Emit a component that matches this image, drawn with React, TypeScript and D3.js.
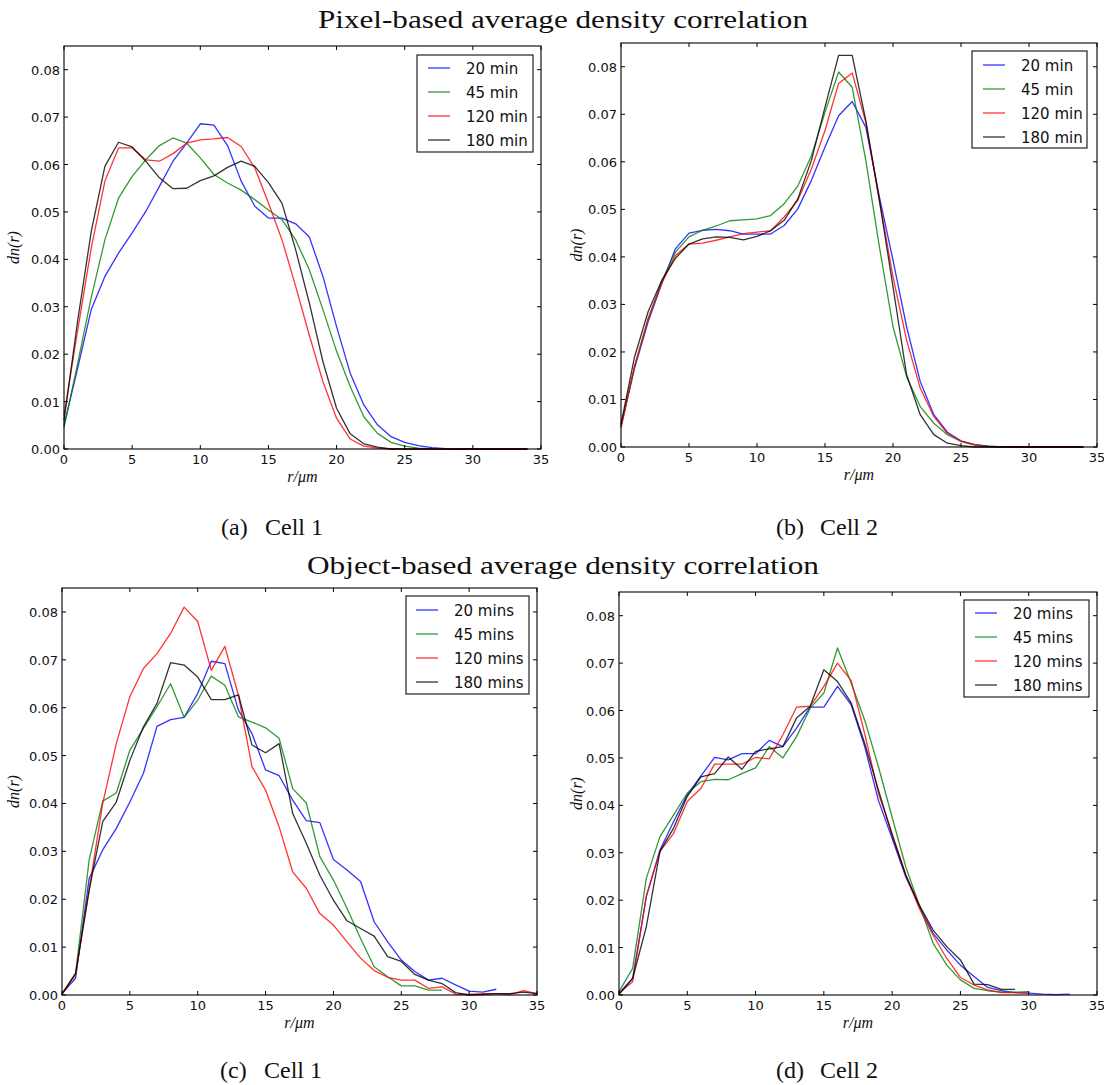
import React from 'react'
import * as d3 from 'd3'

// legend labels / colours
const pixelNames = ['20 min', '45 min', '120 min', '180 min']
const objectNames = ['20 mins', '45 mins', '120 mins', '180 mins']
const lineColors = ['#0000ff', '#008000', '#ff0000', '#000000']

const xTicks = [0, 5, 10, 15, 20, 25, 30, 35]
const yTicks = [0, 0.01, 0.02, 0.03, 0.04, 0.05, 0.06, 0.07, 0.08]
const yTickLabels = ['0.00', '0.01', '0.02', '0.03', '0.04', '0.05', '0.06', '0.07', '0.08']

// dn(r) values, index = r in µm
// (a) pixel-based, cell 1
const pixCell1_20 = [0.005, 0.017, 0.0294, 0.0364, 0.0413, 0.0456, 0.0501, 0.0554, 0.0607, 0.0645, 0.0686, 0.0683, 0.064, 0.0565, 0.0512, 0.0487, 0.0487, 0.0475, 0.0447, 0.0364, 0.0258, 0.016, 0.0093, 0.0051, 0.0026, 0.0014, 0.0007, 0.0003, 0.0001, 0, 0, 0, 0, 0, 0]
const pixCell1_45 = [0.0045, 0.018, 0.032, 0.0441, 0.0529, 0.0575, 0.061, 0.064, 0.0656, 0.0645, 0.0614, 0.0579, 0.0561, 0.0546, 0.0526, 0.0504, 0.0484, 0.0441, 0.0378, 0.0294, 0.0206, 0.0132, 0.0068, 0.0033, 0.0014, 0.0006, 0.0002, 0, 0, 0, 0, 0, 0, 0, 0]
const pixCell1_120 = [0.007, 0.025, 0.0424, 0.0565, 0.0635, 0.0635, 0.061, 0.0607, 0.0623, 0.0645, 0.0652, 0.0654, 0.0657, 0.0638, 0.0593, 0.0519, 0.0441, 0.0343, 0.024, 0.0142, 0.0065, 0.0021, 0.0006, 0.0002, 0, 0, 0, 0, 0, 0, 0, 0, 0, 0, 0]
const pixCell1_180 = [0.006, 0.027, 0.0459, 0.0596, 0.0647, 0.0637, 0.0607, 0.0572, 0.0549, 0.055, 0.0566, 0.0576, 0.0594, 0.0607, 0.0596, 0.0562, 0.0518, 0.042, 0.0308, 0.0184, 0.0086, 0.0032, 0.0011, 0.0004, 0, 0, 0, 0, 0, 0, 0, 0, 0, 0, 0]

// (b) pixel-based, cell 2
const pixCell2_20 = [0.0043, 0.0166, 0.0264, 0.0344, 0.0417, 0.045, 0.0456, 0.0458, 0.0455, 0.0448, 0.0448, 0.0448, 0.0466, 0.0501, 0.0561, 0.0631, 0.0697, 0.0727, 0.0673, 0.0526, 0.0393, 0.0253, 0.0138, 0.0068, 0.0031, 0.0013, 0.0005, 0.0002, 0, 0, 0, 0, 0, 0, 0]
const pixCell2_45 = [0.0045, 0.017, 0.027, 0.0348, 0.041, 0.0442, 0.0456, 0.0465, 0.0476, 0.0478, 0.048, 0.0487, 0.0512, 0.0549, 0.0613, 0.0704, 0.0789, 0.0757, 0.0603, 0.0421, 0.0253, 0.0148, 0.0085, 0.005, 0.0026, 0.0012, 0.0005, 0.0002, 0, 0, 0, 0, 0, 0, 0]
const pixCell2_120 = [0.004, 0.017, 0.027, 0.0345, 0.0403, 0.0427, 0.0429, 0.0435, 0.0442, 0.0449, 0.0452, 0.0455, 0.0484, 0.0519, 0.0585, 0.0666, 0.0765, 0.0787, 0.0683, 0.0519, 0.0358, 0.0225, 0.0124, 0.0064, 0.0029, 0.0012, 0.0004, 0.0001, 0, 0, 0, 0, 0, 0, 0]
const pixCell2_180 = [0.0048, 0.019, 0.0285, 0.0351, 0.0397, 0.0427, 0.0438, 0.0442, 0.0441, 0.0436, 0.0443, 0.0455, 0.0477, 0.0522, 0.0603, 0.0715, 0.0824, 0.0824, 0.0687, 0.0519, 0.0337, 0.0152, 0.0068, 0.0026, 0.0008, 0.0003, 0, 0, 0, 0, 0, 0, 0, 0, 0]

// (c) object-based, cell 1
const objCell1_20 = [0.0003, 0.0035, 0.0243, 0.0303, 0.0348, 0.0403, 0.0463, 0.0561, 0.0575, 0.058, 0.063, 0.0697, 0.0692, 0.0595, 0.0546, 0.047, 0.0458, 0.0407, 0.0364, 0.036, 0.0283, 0.0261, 0.0237, 0.0153, 0.0111, 0.0073, 0.0049, 0.0031, 0.0035, 0.0021, 0.0008, 0.0006, 0.0012]
const objCell1_45 = [0.0003, 0.0045, 0.0282, 0.0405, 0.0422, 0.0511, 0.0557, 0.0602, 0.065, 0.058, 0.0616, 0.0666, 0.0647, 0.0581, 0.057, 0.0558, 0.0536, 0.0431, 0.0401, 0.0289, 0.024, 0.0181, 0.0118, 0.0059, 0.0038, 0.0019, 0.0019, 0.001, 0.001]
const objCell1_120 = [0.0003, 0.0042, 0.0219, 0.04, 0.0525, 0.0623, 0.0682, 0.0713, 0.0755, 0.081, 0.078, 0.0678, 0.0728, 0.0626, 0.0477, 0.0428, 0.0351, 0.0257, 0.0223, 0.017, 0.0146, 0.0111, 0.0077, 0.0051, 0.0037, 0.0031, 0.0031, 0.0014, 0.0017, 0.0002, 0.0001, 0.0003, 0.0003, 0.0001, 0.0009, 0.0003]
const objCell1_180 = [0.0001, 0.0045, 0.0219, 0.0362, 0.0403, 0.049, 0.056, 0.0609, 0.0694, 0.0689, 0.0664, 0.0617, 0.0617, 0.0627, 0.0522, 0.0506, 0.0525, 0.0379, 0.0317, 0.025, 0.0198, 0.0155, 0.0139, 0.0123, 0.008, 0.007, 0.0043, 0.0031, 0.0024, 0.0005, 0, 0.0001, 0.0003, 0.0003, 0.0006, 0.0003]

// (d) object-based, cell 2
const objCell2_20 = [0.0004, 0.0035, 0.0208, 0.0306, 0.0366, 0.0422, 0.0462, 0.0501, 0.0496, 0.0509, 0.0509, 0.0537, 0.0524, 0.0563, 0.0607, 0.0607, 0.0651, 0.0612, 0.0523, 0.041, 0.033, 0.0249, 0.0186, 0.013, 0.0095, 0.0063, 0.0039, 0.0016, 0.0009, 0.0005, 0.0004, 0.0002, 0.0001, 0.0002]
const objCell2_45 = [0.0007, 0.0056, 0.0246, 0.0334, 0.038, 0.0426, 0.045, 0.0455, 0.0454, 0.0467, 0.0479, 0.0524, 0.05, 0.0545, 0.0605, 0.0637, 0.0732, 0.0658, 0.0579, 0.0481, 0.0375, 0.027, 0.0189, 0.0109, 0.0063, 0.0032, 0.0014, 0.0009, 0.0006, 0.0006, 0.0007]
const objCell2_120 = [0.0004, 0.0028, 0.0208, 0.0303, 0.0341, 0.0408, 0.0436, 0.0487, 0.0487, 0.0487, 0.0501, 0.0498, 0.0549, 0.0607, 0.0609, 0.0651, 0.07, 0.0663, 0.055, 0.0425, 0.034, 0.0253, 0.0182, 0.0126, 0.0077, 0.0037, 0.0021, 0.0011, 0.0005, 0.0005, 0.0004]
const objCell2_180 = [0.0001, 0.0035, 0.0144, 0.0303, 0.0352, 0.0419, 0.046, 0.0467, 0.0502, 0.0476, 0.0514, 0.0519, 0.0524, 0.0584, 0.0609, 0.0686, 0.0661, 0.0616, 0.053, 0.0432, 0.0337, 0.0253, 0.0189, 0.0137, 0.0102, 0.0074, 0.0023, 0.0022, 0.0012, 0.0012]

const panels = [
  {
    key: 'a', left: 64, top: 46, right: 541, bottom: 449,
    series: [pixCell1_20, pixCell1_45, pixCell1_120, pixCell1_180], names: pixelNames,
    legend: { x: 417, y: 55, w: 116, h: 97, lineX: 11, textX: 49, firstRow: 13 },
    ylabX: 19, caption: '(a)', cell: 'Cell 1', capX: 221, capY: 535,
  },
  {
    key: 'b', left: 621, top: 43, right: 1097, bottom: 447,
    series: [pixCell2_20, pixCell2_45, pixCell2_120, pixCell2_180], names: pixelNames,
    legend: { x: 972, y: 51, w: 115, h: 97, lineX: 11, textX: 49, firstRow: 14 },
    ylabX: 582, caption: '(b)', cell: 'Cell 2', capX: 776, capY: 535,
  },
  {
    key: 'c', left: 62, top: 588, right: 537, bottom: 995,
    series: [objCell1_20, objCell1_45, objCell1_120, objCell1_180], names: objectNames,
    legend: { x: 406, y: 596, w: 123, h: 98, lineX: 10, textX: 48, firstRow: 14 },
    ylabX: 19, caption: '(c)', cell: 'Cell 1', capX: 220, capY: 1078,
  },
  {
    key: 'd', left: 619, top: 592, right: 1097, bottom: 995,
    series: [objCell2_20, objCell2_45, objCell2_120, objCell2_180], names: objectNames,
    legend: { x: 964, y: 600, w: 125, h: 97, lineX: 11, textX: 49, firstRow: 13 },
    ylabX: 582, caption: '(d)', cell: 'Cell 2', capX: 776, capY: 1078,
  },
]

const tickFont = 'DejaVu Sans, sans-serif'
const serifFont = 'Liberation Serif, DejaVu Serif, serif'

function Panel({ p }) {
  const x = d3.scaleLinear().domain([0, 35]).range([p.left, p.right])
  const y = d3.scaleLinear().domain([0, 0.085]).range([p.bottom, p.top])
  const line = d3.line<number>().x((d, i) => x(i)).y(d => y(d))
  const midX = (p.left + p.right) / 2
  const midY = (p.top + p.bottom) / 2
  const lg = p.legend

  return (
    <g>
      <rect x={p.left} y={p.top} width={p.right - p.left} height={p.bottom - p.top} fill="#fff" />
      {p.series.map((s, i) => (
        <path key={i} d={line(s) || ''} fill="none" stroke={lineColors[i]} strokeOpacity={0.8} strokeWidth={1.3} strokeLinejoin="round" />
      ))}
      <rect x={p.left} y={p.top} width={p.right - p.left} height={p.bottom - p.top} fill="none" stroke="#000" strokeWidth={1.1} />

      {/* ticks: inward on all four sides */}
      {xTicks.map(t => (
        <g key={'x' + t}>
          <line x1={x(t)} x2={x(t)} y1={p.bottom} y2={p.bottom - 4} stroke="#000" />
          <line x1={x(t)} x2={x(t)} y1={p.top} y2={p.top + 4} stroke="#000" />
          <text x={x(t)} y={p.bottom + 15} textAnchor="middle" fontFamily={tickFont} fontSize={13} fill="#111">{t}</text>
        </g>
      ))}
      {yTicks.map((t, i) => (
        <g key={'y' + t}>
          <line x1={p.left} x2={p.left + 4} y1={y(t)} y2={y(t)} stroke="#000" />
          <line x1={p.right} x2={p.right - 4} y1={y(t)} y2={y(t)} stroke="#000" />
          <text x={p.left - 4} y={y(t) + 5} textAnchor="end" fontFamily={tickFont} fontSize={13} fill="#111">{yTickLabels[i]}</text>
        </g>
      ))}

      {/* axis labels */}
      <text x={midX} y={p.bottom + 33} textAnchor="middle" fontFamily={serifFont} fontStyle="italic" fontSize={16} fill="#111">r/μm</text>
      <text transform={`translate(${p.ylabX},${midY}) rotate(-90)`} textAnchor="middle" fontFamily={serifFont} fontStyle="italic" fontSize={16} fill="#111">dn(r)</text>

      {/* legend */}
      <rect x={lg.x} y={lg.y} width={lg.w} height={lg.h} fill="#fff" stroke="#222" strokeWidth={1.2} />
      {p.names.map((n, i) => {
        const ry = lg.y + lg.firstRow + i * 24
        return (
          <g key={n}>
            <line x1={lg.x + lg.lineX} x2={lg.x + lg.lineX + 22} y1={ry} y2={ry} stroke={lineColors[i]} strokeOpacity={0.8} strokeWidth={1.3} />
            <text x={lg.x + lg.textX} y={ry + 5.5} fontFamily={tickFont} fontSize={15} fill="#111">{n}</text>
          </g>
        )
      })}

      {/* caption */}
      <text x={p.capX} y={p.capY} fontFamily={serifFont} fontSize={24} fill="#111">{p.caption}</text>
      <text x={p.capX + 44} y={p.capY} fontFamily={serifFont} fontSize={24} fill="#111">{p.cell}</text>
    </g>
  )
}

export default function App() {
  return (
    <svg width={1104} height={1085} style={{ position: 'absolute', left: 0, top: 0, background: '#fff' }}>
      <rect width={1104} height={1085} fill="#fff" />
      <text x={563} y={28} textAnchor="middle" fontFamily={serifFont} fontSize={25} textLength={490} lengthAdjust="spacingAndGlyphs" fill="#111">Pixel-based average density correlation</text>
      <text x={563} y={574} textAnchor="middle" fontFamily={serifFont} fontSize={25} textLength={512} lengthAdjust="spacingAndGlyphs" fill="#111">Object-based average density correlation</text>
      {panels.map(p => <Panel key={p.key} p={p} />)}
    </svg>
  )
}
